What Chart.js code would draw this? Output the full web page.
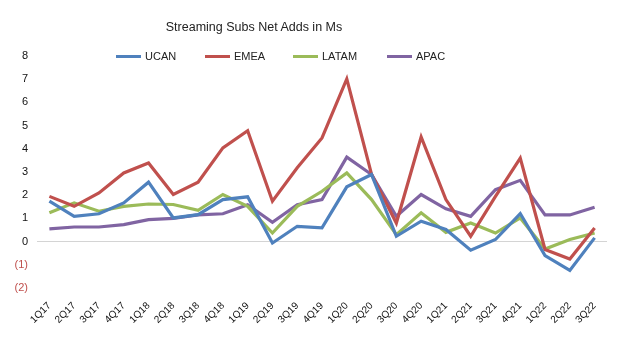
<!DOCTYPE html>
<html>
<head>
<meta charset="utf-8">
<script src="https://cdn.jsdelivr.net/npm/chart.js@4/dist/chart.umd.min.js"></script>
<style>
  body { margin: 0; background: #fff; font-family: "Liberation Sans", sans-serif; }
  #wrap { position: relative; width: 640px; height: 344px; }
  #title { position: absolute; left: 0; width: 508px; top: 20px; text-align: center; font-size: 12.5px; color: #222; }
  #legend { position: absolute; top: 50px; left: 116px; font-size: 11px; color: #222; }
  #legend span.item { position: absolute; white-space: nowrap; }
  #legend i { display: inline-block; width: 25px; height: 3px; vertical-align: middle; margin-right: 4px; position: relative; top: -1px; }
</style>
</head>
<body>
<div id="wrap">
  <canvas id="myChart" width="640" height="344"></canvas>
  <div id="title">Streaming Subs Net Adds in Ms</div>
  <div id="legend"></div>
</div>
<script>
var quarters = ['1Q17','2Q17','3Q17','4Q17','1Q18','2Q18','3Q18','4Q18','1Q19','2Q19','3Q19','4Q19',
                '1Q20','2Q20','3Q20','4Q20','1Q21','2Q21','3Q21','4Q21','1Q22','2Q22','3Q22'];

var ucan  = [1.74, 1.09, 1.20, 1.67, 2.56, 1.02, 1.16, 1.81, 1.93, -0.06, 0.66, 0.59,
             2.36, 2.89, 0.23, 0.88, 0.52, -0.37, 0.09, 1.21, -0.60, -1.24, 0.16];
var emea  = [1.95, 1.52, 2.10, 2.96, 3.39, 2.03, 2.56, 4.04, 4.78, 1.74, 3.18, 4.47,
             7.01, 2.90, 0.80, 4.51, 1.81, 0.23, 1.95, 3.60, -0.34, -0.75, 0.59];
var latam = [1.24, 1.67, 1.31, 1.52, 1.62, 1.60, 1.35, 2.03, 1.52, 0.37, 1.52, 2.17,
             2.96, 1.81, 0.30, 1.24, 0.40, 0.80, 0.37, 1.02, -0.32, 0.09, 0.37];
var apac  = [0.55, 0.63, 0.63, 0.73, 0.95, 1.00, 1.15, 1.20, 1.59, 0.83, 1.59, 1.81,
             3.64, 2.89, 1.09, 2.03, 1.41, 1.09, 2.24, 2.64, 1.15, 1.15, 1.48];

var seriesNames = ['UCAN', 'EMEA', 'LATAM', 'APAC'];
var seriesColors = ['#4f81bd', '#c0504d', '#9bbb59', '#8064a2'];
var seriesData = [ucan, emea, latam, apac];

// legend built in html so it can sit where the original one sits
var legendX = [0, 89, 177, 271];
var legendHtml = '';
seriesNames.forEach(function (name, i) {
  legendHtml += '<span class="item" style="left:' + legendX[i] + 'px"><i style="background:' +
    seriesColors[i] + '"></i>' + name + '</span>';
});
document.getElementById('legend').innerHTML = legendHtml;

var datasets = seriesNames.map(function (name, i) {
  return {
    label: name,
    data: seriesData[i],
    borderColor: seriesColors[i],
    backgroundColor: seriesColors[i],
    borderWidth: 3.2,
    pointRadius: 0,
    tension: 0,
    fill: false
  };
});

new Chart(document.getElementById('myChart'), {
  type: 'line',
  data: { labels: quarters, datasets: datasets },
  options: {
    responsive: false,
    animation: false,
    layout: { padding: { top: 56, right: 33, left: 0, bottom: 0 } },
    plugins: {
      legend: { display: false },
      title: { display: false },
      tooltip: { enabled: false }
    },
    scales: {
      x: {
        offset: true,
        grid: { display: false },
        border: { display: false },
        ticks: {
          color: '#111',
          font: { family: 'Liberation Sans', size: 10 },
          maxRotation: 45,
          minRotation: 45,
          autoSkip: false,
          padding: 4
        },
        afterFit: function (scale) { scale.height = 56; }
      },
      y: {
        min: -2,
        max: 8,
        grid: {
          drawTicks: false,
          color: function (ctx) { return ctx.tick && ctx.tick.value === 0 ? '#d4d4d4' : 'rgba(0,0,0,0)'; },
          lineWidth: 1
        },
        border: { display: false },
        ticks: {
          stepSize: 1,
          padding: 9,
          font: { family: 'Liberation Sans', size: 11 },
          color: function (ctx) { return ctx.tick.value < 0 ? '#c0504d' : '#111'; },
          callback: function (v) { return v < 0 ? '(' + Math.abs(v) + ')' : v; }
        },
        afterFit: function (scale) { scale.width = 37; }
      }
    }
  }
});
</script>
</body>
</html>
